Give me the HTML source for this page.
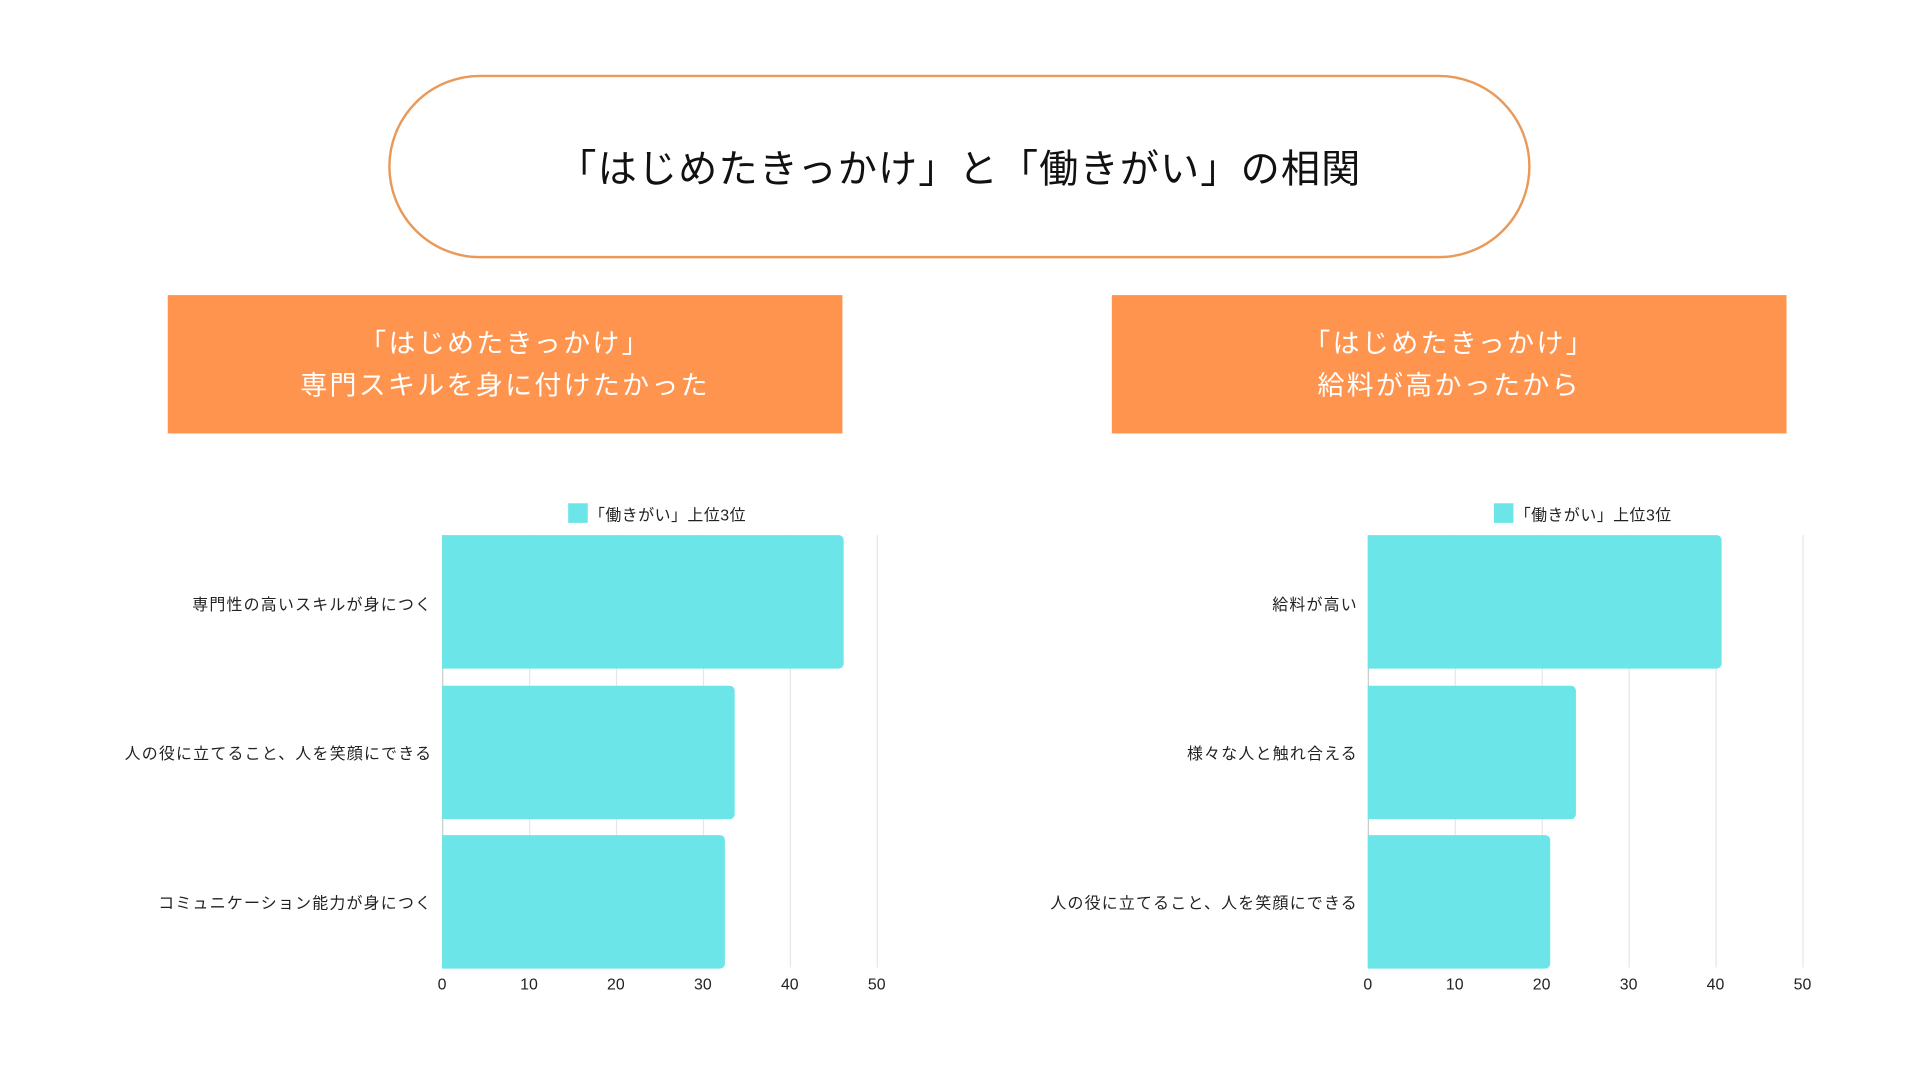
<!DOCTYPE html>
<html><head><meta charset="utf-8"><style>
html,body{margin:0;padding:0;background:#fff;width:1920px;height:1080px;overflow:hidden}
#s{position:absolute;left:0;top:0;width:1568px;height:882px;transform:scale(1.22449);transform-origin:0 0;font-family:"Liberation Sans","Noto Sans CJK JP",sans-serif}
.a{position:absolute}
.pill{left:317px;top:61px;width:929px;height:146px;border:2px solid #e99a5a;border-radius:76px;display:flex;align-items:center;justify-content:center;font-size:32px;color:#111;letter-spacing:0.9px}
.box{top:241px;width:551px;height:113px;background:#ff944f;color:#fff;font-size:22px;line-height:34px;text-align:center;display:flex;align-items:center;justify-content:center;letter-spacing:1.9px}
.bar{background:#6ce5e8;border-radius:0 4px 4px 0;height:109px}
.g{width:1px;background:#e6e6e6;top:437px;height:353px}
.t{top:796px;font-size:13px;color:#222;width:40px;margin-left:-20px;text-align:center}
.c{font-size:13px;color:#222;text-align:right;width:340px;letter-spacing:1px}
.lg{font-size:13px;color:#222;top:410px;letter-spacing:0.4px}
.sq{width:16px;height:16px;background:#6ce5e8;top:411px}
</style></head><body><div id="s">
<div class="a pill">「はじめたきっかけ」と「働きがい」の相関</div>
<div class="a box" style="left:137px">「はじめたきっかけ」<br>専門スキルを身に付けたかった</div>
<div class="a box" style="left:908px">「はじめたきっかけ」<br>給料が高かったから</div>

<div class="a sq" style="left:464px"></div><div class="a lg" style="left:481px">「働きがい」上位3位</div>
<div class="a g" style="left:361px;background:#ccc"></div><div class="a g" style="left:432px"></div><div class="a g" style="left:503px"></div><div class="a g" style="left:574px"></div><div class="a g" style="left:645px"></div><div class="a g" style="left:716px"></div>
<div class="a bar" style="left:361px;top:437px;width:328px"></div>
<div class="a bar" style="left:361px;top:560px;width:239px"></div>
<div class="a bar" style="left:361px;top:682px;width:231px"></div>
<div class="a c" style="left:13px;top:483px">専門性の高いスキルが身につく</div>
<div class="a c" style="left:13px;top:605px">人の役に立てること、人を笑顔にできる</div>
<div class="a c" style="left:13px;top:727px">コミュニケーション能力が身につく</div>
<div class="a t" style="left:361px">0</div><div class="a t" style="left:432px">10</div><div class="a t" style="left:503px">20</div><div class="a t" style="left:574px">30</div><div class="a t" style="left:645px">40</div><div class="a t" style="left:716px">50</div>

<div class="a sq" style="left:1220px"></div><div class="a lg" style="left:1237px">「働きがい」上位3位</div>
<div class="a g" style="left:1117px;background:#ccc"></div><div class="a g" style="left:1188px"></div><div class="a g" style="left:1259px"></div><div class="a g" style="left:1330px"></div><div class="a g" style="left:1401px"></div><div class="a g" style="left:1472px"></div>
<div class="a bar" style="left:1117px;top:437px;width:289px"></div>
<div class="a bar" style="left:1117px;top:560px;width:170px"></div>
<div class="a bar" style="left:1117px;top:682px;width:149px"></div>
<div class="a c" style="left:769px;top:483px">給料が高い</div>
<div class="a c" style="left:769px;top:605px">様々な人と触れ合える</div>
<div class="a c" style="left:769px;top:727px">人の役に立てること、人を笑顔にできる</div>
<div class="a t" style="left:1117px">0</div><div class="a t" style="left:1188px">10</div><div class="a t" style="left:1259px">20</div><div class="a t" style="left:1330px">30</div><div class="a t" style="left:1401px">40</div><div class="a t" style="left:1472px">50</div>
</div></body></html>
